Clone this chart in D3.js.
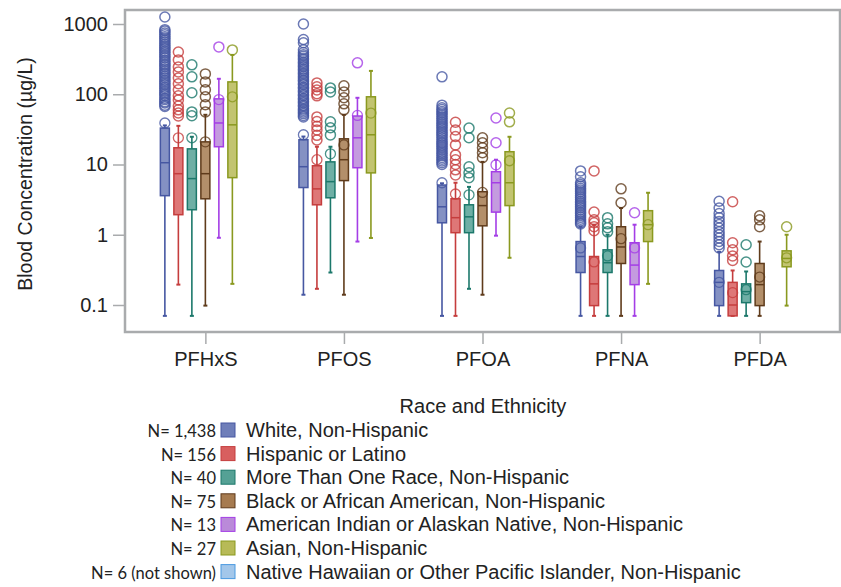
<!DOCTYPE html>
<html>
<head>
<meta charset="utf-8">
<script src="https://cdn.jsdelivr.net/npm/d3@7"></script>
<style>
  body { margin: 0; background: #fff; }
  text { font-family: "Liberation Sans", Arial, sans-serif; fill: #222; }
  .nlab { font-family: Lato, "Open Sans", sans-serif; }
</style>
</head>
<body>
<svg id="chart" width="841" height="587"></svg>
<script>
// analytes on the x axis
const analytes = ["PFHxS", "PFOS", "PFOA", "PFNA", "PFDA"];
const yTicks = [0.1, 1, 10, 100, 1000];

const groups = [
  "White, Non-Hispanic",
  "Hispanic or Latino",
  "More Than One Race, Non-Hispanic",
  "Black or African American, Non-Hispanic",
  "American Indian or Alaskan Native, Non-Hispanic",
  "Asian, Non-Hispanic",
  "Native Hawaiian or Other Pacific Islander, Non-Hispanic"
];
const groupN = ["N= 1,438", "N= 156", "N= 40", "N= 75", "N= 13", "N= 27", "N= 6 (not shown)"];

// per analyte: [whisker low, Q1, median, Q3, whisker high, mean]
const whiteBox = [
  [0.07, 3.6, 10.6, 33, 36, 39],
  [0.14, 4.7, 9.3, 22.5, 25, 26.5],
  [0.07, 1.48, 2.5, 5.1, 5.4, 5.5],
  [0.07, 0.29, 0.49, 0.8, 1.3, 0.65],
  [0.07, 0.098, 0.21, 0.31, 0.57, 0.21]
];
const hispanicBox = [
  [0.195, 1.93, 7.4, 17.3, 35.5, 24],
  [0.17, 2.67, 4.5, 9.6, 17.9, 11.7],
  [0.07, 1.07, 1.75, 3.25, 5.5, 3.8],
  [0.07, 0.098, 0.2, 0.49, 1.39, 0.41],
  [0.07, 0.07, 0.1, 0.21, 0.31, 0.15]
];
const multiBox = [
  [0.07, 2.27, 6.3, 16.7, 24.8, 24],
  [0.29, 3.36, 5.7, 10.9, 17.9, 14.2],
  [0.17, 1.07, 1.8, 2.67, 4.8, 3.7],
  [0.07, 0.29, 0.4, 0.61, 1.0, 0.5],
  [0.07, 0.108, 0.155, 0.2, 0.3, 0.165]
];
const blackBox = [
  [0.098, 3.25, 7.4, 21, 51, 21],
  [0.14, 5.9, 11.7, 23.2, 51, 19],
  [0.14, 1.34, 2.6, 4.1, 10.9, 4.0],
  [0.07, 0.39, 0.67, 1.3, 2.4, 0.88],
  [0.07, 0.098, 0.195, 0.39, 0.8, 0.25]
];
const amIndBox = [
  [0.905, 17.9, 39, 86, 166, 84],
  [0.8, 9, 24, 49, 89, 50],
  [0.97, 2.1, 5.5, 7.9, 11.7, 9.9],
  [0.07, 0.195, 0.37, 0.77, 1.39, 0.65],
  null
];
const asianBox = [
  [0.2, 6.5, 36.7, 150, 363, 92],
  [0.9, 7.6, 26.5, 92, 215, 54],
  [0.47, 2.6, 5.5, 15.2, 24.8, 11.3],
  [0.2, 0.8, 1.39, 2.2, 3.96, 1.39],
  [0.098, 0.35, 0.46, 0.59, 1.0, 0.47]
];

// outliers per analyte (white ones are dense, so many values)
const whiteOut = [
  [1260, 830, 795, 745, 705, 660, 625, 585, 555, 520, 492, 462, 440, 413, 392, 368, 347, 328, 306, 291, 272, 258, 244, 228, 216, 203, 193, 180, 171, 160, 152, 142, 135, 126, 120, 112, 106, 100, 95, 88, 84, 78, 75, 70, 67],
  [1000, 600, 540, 430, 392, 366, 348, 325, 309, 288, 275, 256, 244, 228, 217, 203, 193, 180, 171, 160, 153, 142, 136, 126, 121, 112, 107, 99, 95, 88, 84, 79, 75, 70, 67, 62, 59, 56, 53, 50, 47.5],
  [177, 70, 64, 60.5, 57, 54, 51, 48, 45, 42.5, 40, 38, 36, 34, 32, 30, 28.5, 27, 25.5, 24, 22.5, 21, 20, 19, 18, 17, 16, 15, 14.2, 13.4, 12.6, 11.9, 11.2, 10.6, 10],
  [8.1, 6.7, 5.5, 5.2, 4.9, 4.6, 4.35, 4.1, 3.85, 3.6, 3.4, 3.2, 3.0, 2.85, 2.7, 2.55, 2.4, 2.25, 2.1, 2.0, 1.88, 1.77, 1.66, 1.57, 1.48, 1.42],
  [3.0, 2.4, 2.0, 1.75, 1.55, 1.4, 1.25, 1.1, 1.0, 0.9, 0.8, 0.72, 0.65]
];
const hispanicOut = [
  [400, 308, 245, 208, 171, 141, 116, 95, 83, 68, 60, 54, 49],
  [145, 128, 115, 102, 95, 47.6, 41, 35, 31, 26, 22.4],
  [40, 31, 25, 19, 13.7, 11.7, 10, 8.4, 7.1],
  [8.1, 2.1, 1.63, 1.48, 1.3, 1.14],
  [2.95, 0.77, 0.61, 0.5, 0.43]
];
const multiOut = [
  [262, 177, 105, 56, 49.4],
  [123, 108, 40.5, 33.3, 26.4],
  [33, 24, 9.3, 7.6, 6.5],
  [1.75, 1.43, 1.26, 1.1],
  [0.72, 0.41]
];
const blackOut = [
  [195, 150, 116, 92, 71, 56],
  [132, 108, 89, 73, 60],
  [24, 20.4, 17.3, 14.7, 12.5],
  [4.5, 2.85],
  [1.86, 1.63, 1.3]
];
const amIndOut = [[472], [280], [46, 20.4], [2.06], []];
const asianOut = [[428], [], [54, 40.5], [], [1.3]];

const boxes = [whiteBox, hispanicBox, multiBox, blackBox, amIndBox, asianBox];
const outs = [whiteOut, hispanicOut, multiOut, blackOut, amIndOut, asianOut];

const strokeCol = ["#4657a2", "#c53d3d", "#1c786b", "#5f3b1b", "#a43ee6", "#8a991f", "#4a9ae0"];
const fillCol = ["#6f7eb9", "#d85f5f", "#55a195", "#a67b50", "#ba8ad9", "#b7ba57", "#a3c7ea"];

const svg = d3.select("#chart");
const frame = { left: 125, right: 840, top: 10, bottom: 332 };
const fs = "20px";

const x = d3.scalePoint().domain(analytes).range([frame.left, frame.right]).padding(0.58);
const y = d3.scaleLog().domain([0.1, 1000]).range([305, 24]);
const step = 13.5, bw = 9;

// frame
svg.append("rect")
  .attr("x", frame.left).attr("y", frame.top)
  .attr("width", frame.right - frame.left).attr("height", frame.bottom - frame.top)
  .attr("fill", "none").attr("stroke", "#a9abad").attr("stroke-width", 2.5);

// y axis
const yAxis = svg.append("g")
  .attr("transform", "translate(" + (frame.left - 1) + ",0)")
  .call(d3.axisLeft(y).tickValues(yTicks).tickFormat(d => d3.format("~g")(d)).tickSize(11).tickPadding(5));
yAxis.select(".domain").remove();
yAxis.selectAll("line").attr("stroke", "#a9abad").attr("stroke-width", 1.5);
yAxis.selectAll("text").style("font-size", fs).attr("fill", "#222").attr("font-family", "Liberation Sans, Arial, sans-serif");

// x axis
const xAxis = svg.append("g")
  .attr("transform", "translate(0," + (frame.bottom + 1) + ")")
  .call(d3.axisBottom(x).tickSize(11).tickPadding(8));
xAxis.select(".domain").remove();
xAxis.selectAll("line").attr("stroke", "#a9abad").attr("stroke-width", 1.5);
xAxis.selectAll("text").style("font-size", fs).attr("fill", "#222").attr("font-family", "Liberation Sans, Arial, sans-serif");

// y title
svg.append("text")
  .attr("transform", "translate(32,174) rotate(-90)")
  .attr("text-anchor", "middle")
  .style("font-size", "19.5px")
  .text("Blood Concentration (µg/L)");

// boxes
const plot = svg.append("g");
boxes.forEach((box, gi) => {
  const off = (gi - 3) * step;
  box.forEach((s, ai) => {
    if (!s) return;
    const cx = x(analytes[ai]) + off;
    const g = plot.append("g");
    const col = strokeCol[gi];
    // whiskers
    g.append("line").attr("x1", cx).attr("x2", cx).attr("y1", y(s[0])).attr("y2", y(s[1]))
      .attr("stroke", col).attr("stroke-width", 1.6);
    g.append("line").attr("x1", cx).attr("x2", cx).attr("y1", y(s[3])).attr("y2", y(s[4]))
      .attr("stroke", col).attr("stroke-width", 1.6);
    [s[0], s[4]].forEach(v => {
      g.append("line").attr("x1", cx - 2).attr("x2", cx + 2).attr("y1", y(v)).attr("y2", y(v))
        .attr("stroke", col).attr("stroke-width", 2);
    });
    // outliers
    g.selectAll("circle.out").data(outs[gi][ai]).join("circle")
      .attr("class", "out")
      .attr("cx", cx).attr("cy", d => y(d)).attr("r", 5)
      .attr("fill", "none").attr("stroke", col).attr("stroke-opacity", 0.8).attr("stroke-width", 1.5);
    // box
    g.append("rect")
      .attr("x", cx - bw / 2).attr("width", bw)
      .attr("y", y(s[3])).attr("height", y(s[1]) - y(s[3]))
      .attr("fill", fillCol[gi]).attr("fill-opacity", 0.85)
      .attr("stroke", col).attr("stroke-width", 1.5);
    g.append("line").attr("x1", cx - bw / 2).attr("x2", cx + bw / 2).attr("y1", y(s[2])).attr("y2", y(s[2]))
      .attr("stroke", col).attr("stroke-width", 1.5);
    // mean
    g.append("circle").attr("cx", cx).attr("cy", y(s[5])).attr("r", 5)
      .attr("fill", "none").attr("stroke", col).attr("stroke-opacity", 0.8).attr("stroke-width", 1.3);
  });
});

// legend
svg.append("text")
  .attr("x", 483).attr("y", 413)
  .attr("text-anchor", "middle")
  .style("font-size", fs)
  .text("Race and Ethnicity");

const leg = svg.append("g");
groups.forEach((name, i) => {
  const cy = 430 + i * 23.6;
  leg.append("rect").attr("x", 221).attr("y", cy - 7).attr("width", 14).attr("height", 14)
    .attr("fill", fillCol[i]).attr("stroke", strokeCol[i]).attr("stroke-width", 1);
  leg.append("text").attr("x", 246).attr("y", cy + 7).style("font-size", fs).text(name);
  leg.append("text").attr("class", "nlab").attr("x", 216).attr("y", cy + 7)
    .attr("text-anchor", "end").style("font-size", "16.5px").text(groupN[i]);
});
</script>
</body>
</html>
